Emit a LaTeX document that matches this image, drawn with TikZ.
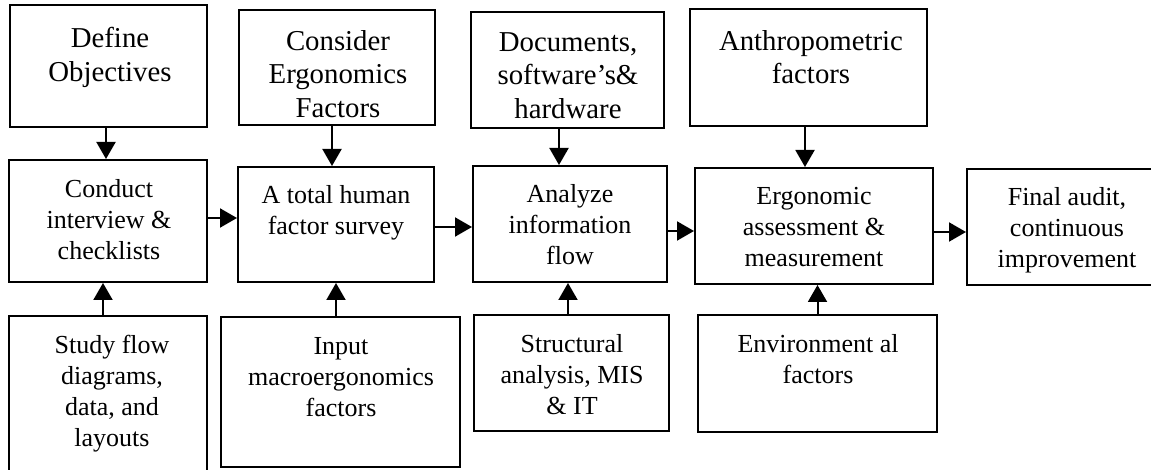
\documentclass[tikz,border=0pt]{standalone}
\usepackage{fontspec}
\setmainfont{Liberation Serif}
\usetikzlibrary{arrows.meta,fit}
\begin{document}
\begin{tikzpicture}[x=0.5pt,y=-0.5pt,
  box/.style={draw,line width=1pt,inner sep=0pt,rectangle},
  toptxt/.style={anchor=north,inner sep=0pt,align=center,font=\fontsize{14.4}{16.8}\selectfont},
  txt/.style={anchor=north,inner sep=0pt,align=center,font=\fontsize{13}{15.5}\selectfont},
  arr/.style={line width=1pt,-{Triangle[length=8.5pt,width=9.5pt]}}]
\useasboundingbox (0,0) rectangle (1151,470);
% boxes
\node[box, fit={(10,5) (207,127)}] (def) {};
\node[box, fit={(239,10) (435,125)}] (cons) {};
\node[box, fit={(471,12) (664,128)}] (docs) {};
\node[box, fit={(690,9) (927,126)}] (anth) {};
\node[box, fit={(9,160) (207,282)}] (cond) {};
\node[box, fit={(238,167) (434,282)}] (tot) {};
\node[box, fit={(473,166) (667,282)}] (ana) {};
\node[box, fit={(695,168) (933,284)}] (erg) {};
\node[box, fit={(967,169) (1170,285)}] (fin) {};
\node[box, fit={(9,316) (207,485)}] (stu) {};
\node[box, fit={(221,317) (460,467)}] (inp) {};
\node[box, fit={(474,315) (669,431)}] (str) {};
\node[box, fit={(698,315) (937,432)}] (env) {};
% texts
\node[toptxt] (tdef) at (110,27) {Define\\Objectives};
\node[toptxt] (tcons) at (338,30) {Consider\\Ergonomics\\Factors};
\node[toptxt] (tdocs) at (568,32) {Documents,\\software’s\&\\hardware};
\node[toptxt] (tanth) at (811,30) {Anthropometric\\factors};
\node[txt] (tcond) at (109,179) {Conduct\\interview \&\\checklists};
\node[txt] (ttot) at (336,185) {A total human\\factor survey};
\node[txt] (tana) at (570,184) {Analyze\\information\\flow};
\node[txt] (terg) at (814,187) {Ergonomic\\assessment \&\\measurement};
\node[txt] (tfin) at (1067,187) {Final audit,\\continuous\\improvement};
\node[txt] (tstu) at (112,335) {Study flow\\diagrams,\\data, and\\layouts};
\node[txt] (tinp) at (341,337) {Input\\macroergonomics\\factors};
\node[txt] (tstr) at (572,334) {Structural\\analysis, MIS\\\& IT};
\node[txt] (tenv) at (818,334) {Environment al\\factors};
% vertical arrows
\draw[arr] ([xshift=-1.25pt]def.south) -- ([xshift=-1.25pt]def.south |- cond.north);
\draw[arr] ([xshift=-2.5pt]cons.south) -- ([xshift=-2.5pt]cons.south |- tot.north);
\draw[arr] ([xshift=-4.25pt]docs.south) -- ([xshift=-4.25pt]docs.south |- ana.north);
\draw[arr] ([xshift=-1.75pt]anth.south) -- ([xshift=-1.75pt]anth.south |- erg.north);
\draw[arr] ([xshift=-2.5pt]stu.north) -- ([xshift=-2.5pt]stu.north |- cond.south);
\draw[arr] ([xshift=-2.25pt]inp.north) -- ([xshift=-2.25pt]inp.north |- tot.south);
\draw[arr] ([xshift=-1.75pt]str.north) -- ([xshift=-1.75pt]str.north |- ana.south);
\draw[arr] (env.north) -- (env.north |- erg.south);
% horizontal arrows
\draw[arr] ([yshift=1.5pt]cond.east) -- ([yshift=1.5pt]cond.east -| tot.west);
\draw[arr] ([yshift=-1.25pt]tot.east) -- ([yshift=-1.25pt]tot.east -| ana.west);
\draw[arr] ([yshift=-3.5pt]ana.east) -- ([yshift=-3.5pt]ana.east -| erg.west);
\draw[arr] ([yshift=-3pt]erg.east) -- ([yshift=-3pt]erg.east -| fin.west);
\end{tikzpicture}
\end{document}
